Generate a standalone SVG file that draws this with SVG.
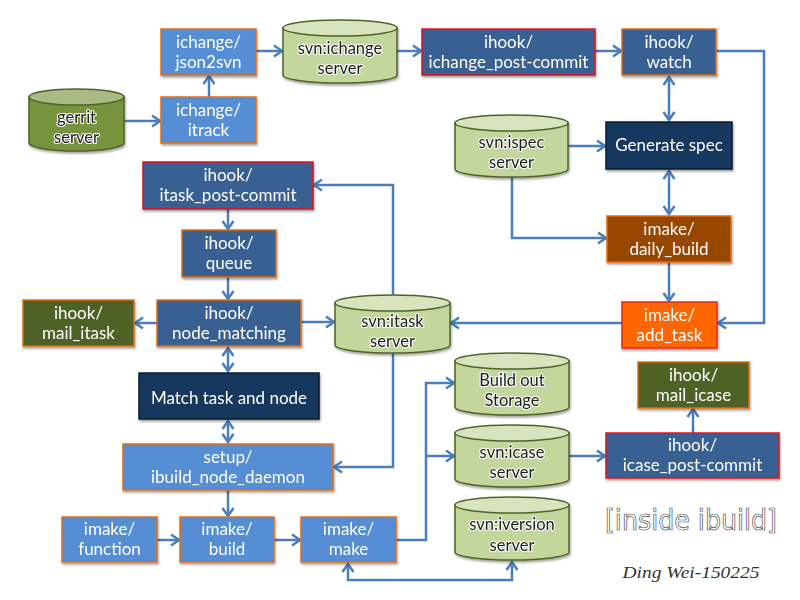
<svg xmlns="http://www.w3.org/2000/svg" width="800" height="600" viewBox="0 0 800 600">
<style>
.bx rect{stroke-width:1.5}
.t{font-family:Lato,"Open Sans","Liberation Sans",sans-serif;font-size:17px;fill:#fff;text-anchor:middle}
.ct{font-family:Lato,"Open Sans","Liberation Sans",sans-serif;font-size:16.5px;fill:#1a1a1a;text-anchor:middle;stroke:#fff;stroke-width:2.2;paint-order:stroke;stroke-linejoin:round}
.cyl path{fill:#C3D69B;stroke:#4F6228;stroke-width:1.5}
.cyl ellipse{fill:#D7E4BD;stroke:#4F6228;stroke-width:1.5}
.cg path{fill:#77933C}
.cg ellipse{fill:#A9BA85}
.c path{fill:none;stroke:#4A7EBB;stroke-width:2.5;stroke-linejoin:miter}
.lb{fill:#558ED5;stroke:#E46C0A}
.db{fill:#376092;stroke:#E46C0A}
.dr{fill:#376092;stroke:#E8101A}
.nv{fill:#17375E;stroke:#0B1A2E}
.ol{fill:#4F6228;stroke:#E46C0A}
</style>
<defs>
<marker id="a" markerUnits="userSpaceOnUse" markerWidth="12" markerHeight="14" refX="10" refY="7" orient="auto-start-reverse" viewBox="0 0 12 14">
<path d="M2,1.5 L10,7 L2,12.5" fill="none" stroke="#4A7EBB" stroke-width="2.5"/>
</marker>
<filter id="sh" x="-10%" y="-10%" width="130%" height="140%">
<feDropShadow dx="1" dy="2" stdDeviation="1.2" flood-color="#000" flood-opacity="0.35"/>
</filter>
</defs>

<g id="connectors" class="c">
<path d="M124,121 H160" marker-end="url(#a)"/>
<path d="M209,97 V76" marker-end="url(#a)"/>
<path d="M256,51 H282" marker-end="url(#a)"/>
<path d="M397,51 H421" marker-end="url(#a)"/>
<path d="M595,51 H621" marker-end="url(#a)"/>
<path d="M716,51 H764 V323 H718" marker-end="url(#a)"/>
<path d="M669,77 V120" marker-start="url(#a)" marker-end="url(#a)"/>
<path d="M568,146 H605" marker-end="url(#a)"/>
<path d="M512,177 V238 H606" marker-end="url(#a)"/>
<path d="M669,171 V214" marker-start="url(#a)" marker-end="url(#a)"/>
<path d="M669,262 V301" marker-end="url(#a)"/>
<path d="M622,323 H451" marker-end="url(#a)"/>
<path d="M393,295 V185 H314" marker-end="url(#a)"/>
<path d="M228,209 V229" marker-end="url(#a)"/>
<path d="M228,277 V299" marker-end="url(#a)"/>
<path d="M157,323 H135" marker-end="url(#a)"/>
<path d="M301,322 H334" marker-end="url(#a)"/>
<path d="M228,348 V371" marker-start="url(#a)" marker-end="url(#a)"/>
<path d="M228,421 V442" marker-start="url(#a)" marker-end="url(#a)"/>
<path d="M393,353 V467 H334" marker-end="url(#a)"/>
<path d="M228,490 V516" marker-end="url(#a)"/>
<path d="M157,540 H179" marker-end="url(#a)"/>
<path d="M274,540 H300" marker-end="url(#a)"/>
<path d="M396,540 H426 V383 H454" marker-end="url(#a)"/>
<path d="M426,456 H454" marker-end="url(#a)"/>
<path d="M348,564 V580 H512 V562" marker-start="url(#a)" marker-end="url(#a)"/>
<path d="M569,456 H605" marker-end="url(#a)"/>
<path d="M693,433 V409" marker-end="url(#a)"/>
</g>

<g id="gerrit" class="cyl cg" filter="url(#sh)">
<path d="M29,97 V143 A47.5,8 0 0 0 124,143 V97 Z"/><ellipse cx="76.5" cy="97" rx="47.5" ry="8"/>
<text class="ct" x="76.5" y="123">gerrit</text><text class="ct" x="76.5" y="143">server</text>
</g>
<g id="svn_ichange" class="cyl" filter="url(#sh)">
<path d="M283,28 V75 A57,8 0 0 0 397,75 V28 Z"/><ellipse cx="340" cy="28" rx="57" ry="8"/>
<text class="ct" x="340" y="54">svn:ichange</text><text class="ct" x="340" y="74">server</text>
</g>
<g id="svn_ispec" class="cyl" filter="url(#sh)">
<path d="M455,123 V169 A56.5,8 0 0 0 568,169 V123 Z"/><ellipse cx="511.5" cy="123" rx="56.5" ry="8"/>
<text class="ct" x="511.5" y="148">svn:ispec</text><text class="ct" x="511.5" y="168">server</text>
</g>
<g id="svn_itask" class="cyl" filter="url(#sh)">
<path d="M335,303 V345 A57.5,8 0 0 0 450,345 V303 Z"/><ellipse cx="392.5" cy="303" rx="57.5" ry="8"/>
<text class="ct" x="392.5" y="327">svn:itask</text><text class="ct" x="392.5" y="347">server</text>
</g>
<g id="build_out" class="cyl" filter="url(#sh)">
<path d="M455,361 V407 A57,8 0 0 0 569,407 V361 Z"/><ellipse cx="512" cy="361" rx="57" ry="8"/>
<text class="ct" x="512" y="386">Build out</text><text class="ct" x="512" y="406">Storage</text>
</g>
<g id="svn_icase" class="cyl" filter="url(#sh)">
<path d="M455,433 V479 A57,8 0 0 0 569,479 V433 Z"/><ellipse cx="512" cy="433" rx="57" ry="8"/>
<text class="ct" x="512" y="458">svn:icase</text><text class="ct" x="512" y="478">server</text>
</g>
<g id="svn_iversion" class="cyl" filter="url(#sh)">
<path d="M455,505 V552 A57,8 0 0 0 569,552 V505 Z"/><ellipse cx="512" cy="505" rx="57" ry="8"/>
<text class="ct" x="512" y="530">svn:iversion</text><text class="ct" x="512" y="551">server</text>
</g>

<g id="json2svn" class="bx" filter="url(#sh)"><rect class="lb" x="161" y="29" width="95" height="46"/>
<text class="t" x="208.5" y="48">ichange/</text><text class="t" x="208.5" y="68">json2svn</text></g>
<g id="itrack" class="bx" filter="url(#sh)"><rect class="lb" x="161" y="97" width="95" height="46"/>
<text class="t" x="208.5" y="116">ichange/</text><text class="t" x="208.5" y="136">itrack</text></g>
<g id="ichange_post_commit" class="bx" filter="url(#sh)"><rect class="dr" x="422" y="29" width="173" height="46"/>
<text class="t" x="508.5" y="48">ihook/</text><text class="t" x="508.5" y="68">ichange_post-commit</text></g>
<g id="watch" class="bx" filter="url(#sh)"><rect class="db" x="622" y="29" width="94" height="46"/>
<text class="t" x="669" y="48">ihook/</text><text class="t" x="669" y="68">watch</text></g>
<g id="generate_spec" class="bx" filter="url(#sh)"><rect class="nv" x="606" y="122" width="126" height="47"/>
<text class="t" x="669" y="151">Generate spec</text></g>
<g id="daily_build" class="bx" filter="url(#sh)"><rect style="fill:#974706;stroke:#E46C0A" x="607" y="216" width="124" height="46"/>
<text class="t" x="669" y="235">imake/</text><text class="t" x="669" y="255">daily_build</text></g>
<g id="add_task" class="bx" filter="url(#sh)"><rect style="fill:#FF6600;stroke:#E8261A" x="622" y="302" width="95" height="46"/>
<text class="t" x="669.5" y="321">imake/</text><text class="t" x="669.5" y="341">add_task</text></g>
<g id="itask_post_commit" class="bx" filter="url(#sh)"><rect class="dr" x="143" y="162" width="170" height="47"/>
<text class="t" x="228" y="181">ihook/</text><text class="t" x="228" y="201">itask_post-commit</text></g>
<g id="queue" class="bx" filter="url(#sh)"><rect class="db" x="182" y="230" width="94" height="47"/>
<text class="t" x="229" y="249">ihook/</text><text class="t" x="229" y="269">queue</text></g>
<g id="node_matching" class="bx" filter="url(#sh)"><rect class="db" x="157" y="300" width="144" height="46"/>
<text class="t" x="229" y="319">ihook/</text><text class="t" x="229" y="339">node_matching</text></g>
<g id="mail_itask" class="bx" filter="url(#sh)"><rect class="ol" x="23" y="300" width="111" height="46"/>
<text class="t" x="78.5" y="319">ihook/</text><text class="t" x="78.5" y="339">mail_itask</text></g>
<g id="match_task" class="bx" filter="url(#sh)"><rect class="nv" x="139" y="373" width="180" height="46"/>
<text class="t" x="229" y="404">Match task and node</text></g>
<g id="ibuild_node_daemon" class="bx" filter="url(#sh)"><rect class="lb" x="123" y="444" width="210" height="46"/>
<text class="t" x="228" y="463">setup/</text><text class="t" x="228" y="483">ibuild_node_daemon</text></g>
<g id="function" class="bx" filter="url(#sh)"><rect class="lb" x="62" y="517" width="95" height="45"/>
<text class="t" x="109.5" y="535">imake/</text><text class="t" x="109.5" y="555">function</text></g>
<g id="build" class="bx" filter="url(#sh)"><rect class="lb" x="180" y="517" width="94" height="45"/>
<text class="t" x="227" y="535">imake/</text><text class="t" x="227" y="555">build</text></g>
<g id="make" class="bx" filter="url(#sh)"><rect class="lb" x="301" y="517" width="95" height="45"/>
<text class="t" x="348.5" y="535">imake/</text><text class="t" x="348.5" y="555">make</text></g>
<g id="icase_post_commit" class="bx" filter="url(#sh)"><rect class="dr" x="606" y="433" width="173" height="45"/>
<text class="t" x="692.5" y="451">ihook/</text><text class="t" x="692.5" y="471">icase_post-commit</text></g>
<g id="mail_icase" class="bx" filter="url(#sh)"><rect class="ol" x="638" y="362" width="111" height="46"/>
<text class="t" x="693.5" y="381">ihook/</text><text class="t" x="693.5" y="401">mail_icase</text></g>

<text x="691" y="530" text-anchor="middle" textLength="172" lengthAdjust="spacingAndGlyphs" style="font-family:'DejaVu Sans','Liberation Sans',sans-serif;font-size:28px;fill:#fff;stroke:#444;stroke-width:0.7">[inside ibuild]</text>
<text x="691" y="578" text-anchor="middle" textLength="137" lengthAdjust="spacingAndGlyphs" style="font-family:'Liberation Serif',serif;font-style:italic;font-weight:normal;font-size:17px;fill:#333">Ding Wei-150225</text>
</svg>
